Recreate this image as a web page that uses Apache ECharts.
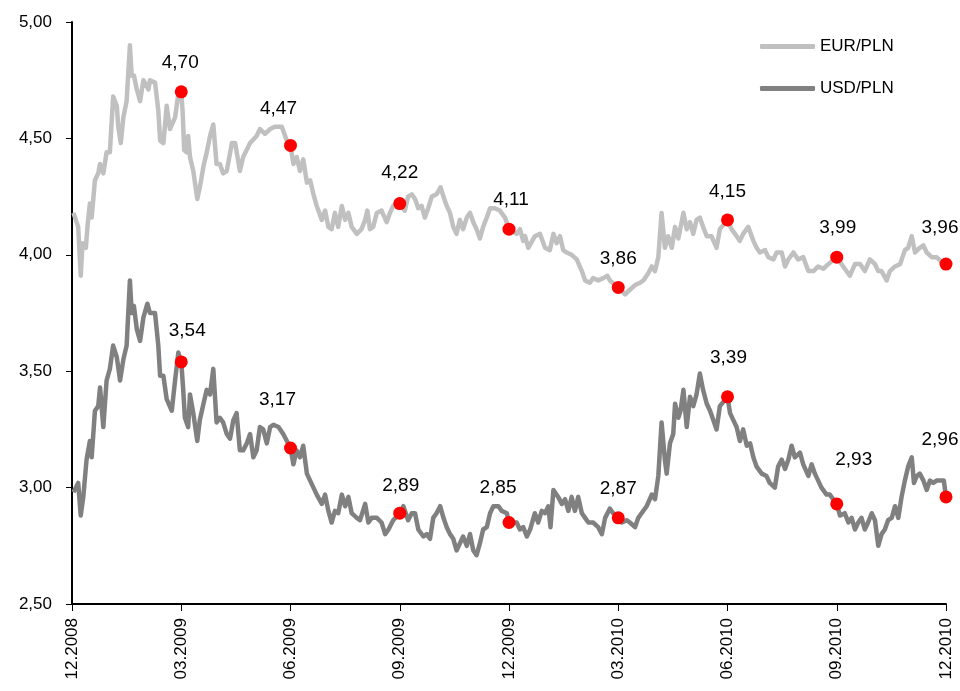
<!DOCTYPE html>
<html>
<head>
<meta charset="utf-8">
<title>EUR/PLN, USD/PLN</title>
<script src="https://cdn.jsdelivr.net/npm/echarts@6/dist/echarts.min.js"></script>
<style>
  html, body { margin: 0; padding: 0; background: #fff; }
  #chart { width: 960px; height: 691px; }
</style>
</head>
<body>
<div id="chart"></div>
<script>
// x = months since 12.2008
var tickLabels = ['12.2008', '03.2009', '06.2009', '09.2009', '12.2009', '03.2010', '06.2010', '09.2010', '12.2010'];

var eurMonths = [0.04,0.17,0.24,0.29,0.38,0.43,0.49,0.54,0.63,0.72,0.77,0.86,0.95,1.04,1.13,1.23,1.27,1.34,1.41,1.50,
  1.59,1.64,1.70,1.78,1.87,1.96,2.10,2.14,2.28,2.37,2.42,2.51,2.60,2.69,2.83,2.92,3.00,3.04,3.08,3.15,
  3.19,3.24,3.33,3.44,3.51,3.61,3.70,3.79,3.88,3.97,4.06,4.15,4.25,4.39,4.48,4.61,4.70,4.89,5.07,5.16,
  5.30,5.44,5.57,5.76,5.90,6.00,6.08,6.17,6.26,6.35,6.45,6.54,6.63,6.72,6.86,6.95,7.04,7.13,7.22,7.31,
  7.41,7.50,7.59,7.68,7.82,7.95,8.05,8.11,8.18,8.27,8.37,8.50,8.64,8.73,8.82,9.00,9.14,9.23,9.33,9.42,
  9.51,9.60,9.69,9.78,9.88,10.01,10.12,10.20,10.29,10.38,10.47,10.56,10.65,10.74,10.84,10.93,11.02,11.11,11.20,11.29,
  11.39,11.48,11.61,11.75,11.89,12.00,12.21,12.30,12.39,12.44,12.53,12.58,12.71,12.85,12.99,13.12,13.22,13.31,13.40,13.49,
  13.58,13.72,13.86,14.00,14.09,14.22,14.31,14.45,14.59,14.70,14.77,15.00,15.19,15.32,15.46,15.60,15.69,15.82,15.92,16.01,
  16.10,16.19,16.28,16.37,16.47,16.56,16.65,16.79,16.88,16.97,17.06,17.15,17.24,17.33,17.43,17.56,17.70,17.79,18.00,18.11,
  18.25,18.34,18.43,18.57,18.62,18.71,18.80,18.89,19.03,19.12,19.26,19.35,19.49,19.58,19.67,19.81,19.94,20.08,20.22,20.36,
  20.49,20.63,20.77,21.00,21.22,21.36,21.50,21.64,21.77,21.91,22.05,22.14,22.23,22.37,22.46,22.60,22.74,22.87,22.96,23.06,
  23.15,23.28,23.38,23.47,23.61,23.74,23.88,24.00];
var eurRates = [4.18,4.12,3.91,4.05,4.03,4.13,4.22,4.16,4.32,4.35,4.39,4.35,4.44,4.44,4.68,4.64,4.55,4.48,4.59,4.66,
  4.90,4.77,4.77,4.71,4.66,4.75,4.71,4.75,4.74,4.62,4.49,4.48,4.64,4.54,4.59,4.69,4.70,4.61,4.45,4.44,
  4.51,4.42,4.36,4.24,4.29,4.38,4.44,4.51,4.56,4.39,4.39,4.35,4.36,4.48,4.48,4.36,4.42,4.48,4.51,4.54,
  4.52,4.54,4.55,4.55,4.49,4.47,4.39,4.42,4.36,4.41,4.31,4.32,4.26,4.21,4.15,4.19,4.12,4.11,4.18,4.12,
  4.21,4.15,4.18,4.12,4.09,4.11,4.15,4.19,4.11,4.12,4.18,4.19,4.14,4.18,4.21,4.22,4.19,4.25,4.26,4.24,
  4.20,4.21,4.16,4.20,4.25,4.26,4.29,4.25,4.21,4.18,4.12,4.09,4.15,4.11,4.16,4.18,4.14,4.11,4.07,4.12,
  4.16,4.20,4.20,4.19,4.16,4.11,4.09,4.11,4.06,4.08,4.03,4.03,4.08,4.09,4.03,4.02,4.09,4.05,4.08,4.02,
  4.01,4.00,3.98,3.93,3.89,3.88,3.90,3.89,3.90,3.91,3.89,3.86,3.83,3.85,3.87,3.88,3.89,3.92,3.95,3.93,
  3.99,4.18,4.03,4.08,4.03,4.12,4.07,4.18,4.11,4.14,4.09,4.15,4.16,4.12,4.08,4.08,4.03,4.11,4.15,4.11,
  4.08,4.06,4.09,4.12,4.12,4.06,4.03,4.01,4.02,3.99,3.98,4.01,4.01,3.95,3.98,4.01,3.98,3.99,3.93,3.93,
  3.95,3.94,3.96,3.99,3.94,3.91,3.96,3.96,3.93,3.98,3.96,3.93,3.93,3.89,3.93,3.95,3.96,4.02,4.03,4.08,
  4.01,4.03,4.04,4.01,3.99,3.99,3.97,3.96];

var usdMonths = [0.04,0.17,0.24,0.31,0.40,0.49,0.54,0.63,0.72,0.77,0.86,0.95,1.04,1.13,1.23,1.32,1.41,1.50,1.59,1.64,
  1.70,1.78,1.87,1.96,2.07,2.14,2.28,2.37,2.42,2.51,2.60,2.74,2.83,2.92,3.00,3.05,3.10,3.19,3.24,3.33,
  3.44,3.51,3.61,3.70,3.79,3.88,3.97,4.06,4.15,4.25,4.34,4.43,4.52,4.61,4.70,4.80,4.89,4.98,5.07,5.16,
  5.25,5.35,5.44,5.53,5.67,5.80,5.90,6.00,6.08,6.17,6.26,6.35,6.45,6.54,6.63,6.72,6.86,6.95,7.04,7.13,
  7.22,7.31,7.41,7.50,7.59,7.68,7.82,7.91,8.05,8.14,8.23,8.37,8.50,8.60,8.69,8.82,9.00,9.10,9.23,9.33,
  9.42,9.51,9.65,9.74,9.83,9.92,10.01,10.11,10.20,10.29,10.38,10.47,10.56,10.65,10.74,10.84,10.93,11.02,11.11,11.20,
  11.29,11.39,11.48,11.57,11.71,11.80,11.94,12.00,12.21,12.30,12.39,12.49,12.58,12.71,12.80,12.90,12.99,13.08,13.14,13.22,
  13.35,13.45,13.54,13.63,13.72,13.81,13.90,14.00,14.09,14.18,14.31,14.45,14.55,14.64,14.77,14.86,15.00,15.10,15.23,15.32,
  15.46,15.55,15.64,15.78,15.92,16.01,16.10,16.19,16.28,16.33,16.42,16.51,16.56,16.65,16.71,16.79,16.88,16.97,17.06,17.15,
  17.24,17.33,17.43,17.52,17.61,17.70,17.79,18.00,18.07,18.16,18.25,18.34,18.43,18.53,18.62,18.71,18.80,18.94,19.07,19.16,
  19.30,19.39,19.49,19.58,19.67,19.76,19.85,19.99,20.08,20.22,20.31,20.40,20.49,20.58,20.72,20.81,20.90,21.00,21.09,21.22,
  21.32,21.41,21.50,21.59,21.68,21.77,21.86,21.96,22.05,22.14,22.23,22.32,22.41,22.51,22.60,22.69,22.78,22.87,22.96,23.06,
  23.12,23.20,23.28,23.38,23.47,23.56,23.65,23.74,23.88,23.94,24.00];
var usdRates = [2.98,3.02,2.88,2.96,3.12,3.20,3.13,3.33,3.35,3.43,3.26,3.46,3.51,3.61,3.56,3.46,3.55,3.61,3.89,3.75,
  3.78,3.68,3.63,3.73,3.79,3.75,3.75,3.61,3.48,3.48,3.38,3.33,3.46,3.58,3.54,3.43,3.30,3.26,3.40,3.32,
  3.20,3.29,3.36,3.42,3.40,3.51,3.28,3.30,3.28,3.23,3.21,3.29,3.32,3.16,3.16,3.19,3.23,3.13,3.16,3.26,
  3.25,3.19,3.26,3.27,3.26,3.23,3.20,3.17,3.10,3.16,3.13,3.18,3.06,3.03,3.00,2.97,2.93,2.97,2.90,2.85,
  2.90,2.89,2.97,2.92,2.96,2.89,2.87,2.86,2.93,2.85,2.87,2.87,2.85,2.80,2.82,2.86,2.89,2.92,2.86,2.89,
  2.89,2.82,2.79,2.80,2.78,2.87,2.89,2.92,2.87,2.83,2.80,2.78,2.73,2.76,2.79,2.75,2.80,2.73,2.71,2.76,
  2.82,2.83,2.89,2.92,2.92,2.90,2.89,2.85,2.85,2.82,2.83,2.79,2.82,2.89,2.85,2.90,2.89,2.92,2.83,2.99,
  2.96,2.93,2.95,2.90,2.96,2.90,2.96,2.89,2.87,2.85,2.85,2.83,2.80,2.87,2.91,2.89,2.87,2.85,2.86,2.85,
  2.83,2.87,2.89,2.92,2.97,2.95,3.05,3.28,3.12,3.06,3.19,3.23,3.36,3.30,3.33,3.42,3.26,3.39,3.35,3.40,
  3.49,3.42,3.36,3.33,3.29,3.25,3.35,3.39,3.32,3.29,3.26,3.20,3.25,3.18,3.19,3.13,3.09,3.06,3.05,3.02,
  3.00,3.09,3.12,3.08,3.12,3.18,3.13,3.15,3.10,3.05,3.10,3.06,3.03,3.00,2.97,2.97,2.95,2.93,2.88,2.89,
  2.85,2.87,2.82,2.85,2.87,2.82,2.85,2.89,2.86,2.75,2.80,2.82,2.86,2.87,2.92,2.87,2.96,3.03,3.09,3.13,
  3.02,3.05,3.06,3.03,2.99,3.03,3.02,3.03,3.03,3.03,2.96];

// quarterly marked values
var quarterMonths = [3, 6, 9, 12, 15, 18, 21, 24];
var eurQuarter = [4.70, 4.47, 4.22, 4.11, 3.86, 4.15, 3.99, 3.96];
var usdQuarter = [3.54, 3.17, 2.89, 2.85, 2.87, 3.39, 2.93, 2.96];

// label nudges (px from dot centre)
var eurLabelOffsets = [[-1,-29],[-12,-37],[0,-31],[2,-29],[0,-29],[0,-28],[1,-29],[-6,-36]];
var usdLabelOffsets = [[6,-31],[-13,-48],[1,-27],[-11,-35],[0,-29],[1,-39],[17,-44],[-6,-57]];

var FONT = 'Liberation Sans, Arial, sans-serif';

function pairs(xs, ys) {
  return xs.map(function (x, i) { return [x, ys[i]]; });
}
function comma(v) {
  return v.toFixed(2).replace('.', ',');
}
function dots(values, offsets) {
  return values.map(function (v, i) {
    return {
      value: [quarterMonths[i], v],
      label: { offset: offsets[i] }
    };
  });
}

var chart = echarts.init(document.getElementById('chart'));

var dotSeries = function (name, values, offsets) {
  return {
    name: name,
    type: 'scatter',
    symbol: 'circle',
    symbolSize: 13,
    z: 5,
    itemStyle: { color: '#ff0000', opacity: 1 },
    label: {
      show: true,
      position: 'inside',
      color: '#000',
      fontSize: 19,
      fontFamily: FONT,
      formatter: function (p) { return comma(p.value[1]); }
    },
    data: dots(values, offsets)
  };
};

var option = {
  animation: false,
  backgroundColor: '#fff',
  grid: { left: 72, right: 14, top: 22, bottom: 87 },
  legend: {
    data: ['EUR/PLN', 'USD/PLN'],
    orient: 'vertical',
    left: 755,
    top: 33,
    itemWidth: 55,
    itemHeight: 5,
    itemGap: 25,
    icon: 'roundRect',
    textStyle: { color: '#000', fontSize: 17, fontFamily: FONT }
  },
  xAxis: {
    type: 'value',
    min: 0,
    max: 24,
    interval: 3,
    splitLine: { show: false },
    axisLine: { lineStyle: { color: '#000', width: 2 } },
    axisTick: { length: 7, lineStyle: { color: '#000', width: 1 } },
    axisLabel: {
      rotate: 90,
      margin: 14,
      color: '#000',
      fontSize: 17,
      fontFamily: FONT,
      formatter: function (v) { return tickLabels[Math.round(v / 3)]; }
    }
  },
  yAxis: {
    type: 'value',
    min: 2.5,
    max: 5,
    interval: 0.5,
    splitLine: { show: false },
    axisLine: { show: true, lineStyle: { color: '#000', width: 2 } },
    axisTick: { show: true, length: 6, lineStyle: { color: '#000', width: 1 } },
    axisLabel: {
      margin: 20,
      color: '#000',
      fontSize: 17,
      fontFamily: FONT,
      formatter: function (v) { return comma(v); }
    }
  },
  series: [
    {
      name: 'EUR/PLN',
      type: 'line',
      showSymbol: false,
      itemStyle: { color: '#c0c0c0' },
      lineStyle: { color: '#c0c0c0', width: 4.5, join: 'round' },
      data: pairs(eurMonths, eurRates)
    },
    {
      name: 'USD/PLN',
      type: 'line',
      showSymbol: false,
      itemStyle: { color: '#808080' },
      lineStyle: { color: '#808080', width: 4.5, join: 'round' },
      data: pairs(usdMonths, usdRates)
    },
    dotSeries('EUR kwartał', eurQuarter, eurLabelOffsets),
    dotSeries('USD kwartał', usdQuarter, usdLabelOffsets)
  ]
};

chart.setOption(option);
</script>
</body>
</html>
